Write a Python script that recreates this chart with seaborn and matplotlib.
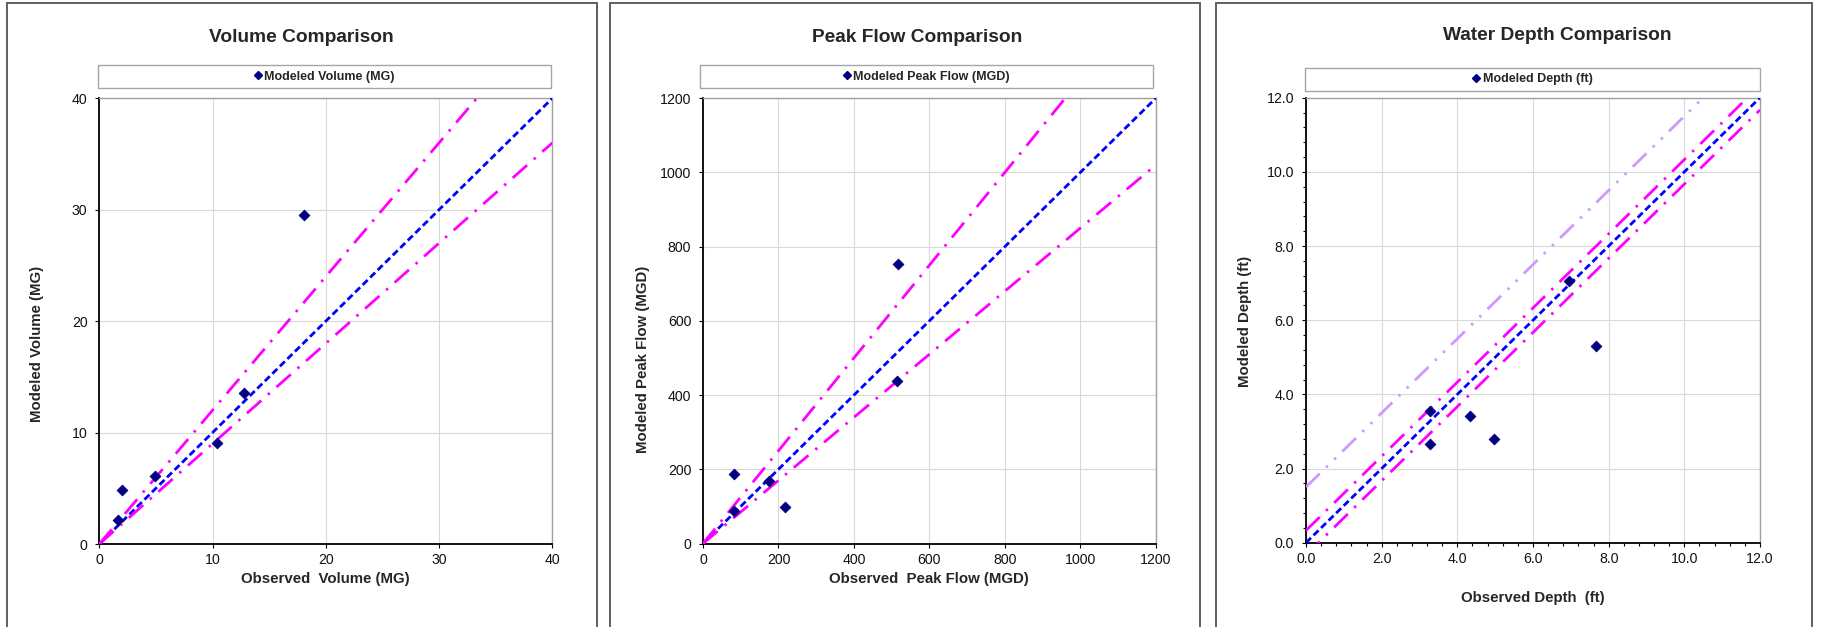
import matplotlib
matplotlib.use('Agg')
import matplotlib.pyplot as plt
import seaborn as sns
from matplotlib.patches import Rectangle
from matplotlib.lines import Line2D
from matplotlib.ticker import MultipleLocator, FormatStrFormatter

# values
volume_obs = [1.65, 2.03, 4.88, 10.38, 12.75, 18.04]
volume_mod = [2.12, 4.81, 6.07, 9.02, 13.55, 29.5]
peak_obs = [82, 83, 176, 217, 516, 513]
peak_mod = [186, 88, 168, 99, 753, 438]
depth_obs = [3.27, 3.28, 4.33, 4.98, 6.96, 7.66]
depth_mod = [3.56, 2.67, 3.42, 2.79, 7.07, 5.30]

volume_ratios = [1.2, 0.9]      # +20% / -10% bands
peak_ratios = [1.25, 0.85]      # +25% / -15% bands
depth_offsets = [0.33, -0.33]   # +/- 4 in bands
depth_offset_high = 1.5

W, H = 1822, 627
NAVY = '#000080'
BLUE = '#0000FF'
MAGENTA = '#FF00FF'
LAVENDER = '#CC99FF'
fontsize = 10.2
LW = 2.0


def fx(px):
    return px / W


def fy(py):
    return 1 - py / H


sns.set_style('white')
plt.rcParams['font.family'] = ['Liberation Sans', 'DejaVu Sans']

fig = plt.figure(figsize=(W / 100, H / 100), dpi=100)

panels = [
    dict(obs=volume_obs, mod=volume_mod, lim=40, title='Volume Comparison',
         xlabel='Observed  Volume (MG)', ylabel='Modeled Volume (MG)', leg='Modeled Volume (MG)',
         ax=(99.3, 98.3, 552.3, 544), border=(7, 597), title_xy=(301, 37),
         box=(98.4, 65, 550.7, 88.4), xlab_y=579, ylab=(37, 266, 'top')),
    dict(obs=peak_obs, mod=peak_mod, lim=1200, title='Peak Flow Comparison',
         xlabel='Observed  Peak Flow (MGD)', ylabel='Modeled Peak Flow (MGD)', leg='Modeled Peak Flow (MGD)',
         ax=(703, 98.3, 1155.7, 543.5), border=(610, 1200), title_xy=(917, 37),
         box=(700, 65, 1153, 88.4), xlab_y=579, ylab=(643, 266, 'top')),
    dict(obs=depth_obs, mod=depth_mod, lim=12, title='Water Depth Comparison',
         xlabel='Observed Depth  (ft)', ylabel='Modeled Depth (ft)', leg='Modeled Depth (ft)',
         ax=(1306, 97.7, 1760, 542.7), border=(1215.5, 1812), title_xy=(1557, 35),
         box=(1305, 67.5, 1760, 91), xlab_y=598, ylab=(1245, 321, 'center')),
]

dash_blue = (2.5, 1.3)
dash_magenta = (6.9, 3.2, 0.9, 3.2)
dash_lavender = (6.9, 3.2, 0.9, 3.2, 0.9, 3.2)

for i, p in enumerate(panels):
    l, t, r, b = p['ax']
    ax = fig.add_axes([fx(l), fy(b), fx(r) - fx(l), (b - t) / H])
    lim = p['lim']

    # panel frame
    bl, br = p['border']
    fig.add_artist(Rectangle((fx(bl), -0.1), fx(br) - fx(bl), fy(3) + 0.1, transform=fig.transFigure,
                             fill=False, edgecolor='#5f5f5f', linewidth=1.4))

    # reference lines
    xs = [0, lim]
    ax.plot(xs, xs, color=BLUE, lw=LW, dashes=dash_blue, zorder=3)
    if i < 2:
        ratios = volume_ratios if i == 0 else peak_ratios
        for k in ratios:
            ax.plot(xs, [x * k for x in xs], color=MAGENTA, lw=LW, dashes=dash_magenta, zorder=3)
    else:
        for d in depth_offsets:
            ax.plot(xs, [x + d for x in xs], color=MAGENTA, lw=LW, dashes=dash_magenta, zorder=3)
        ax.plot(xs, [x + depth_offset_high for x in xs], color=LAVENDER, lw=LW,
                dashes=dash_lavender, zorder=3)

    sns.scatterplot(x=p['obs'], y=p['mod'], ax=ax, marker='D', color=NAVY, s=30,
                    edgecolor=NAVY, linewidth=0.6, zorder=4, legend=False)

    ax.set_xlim(0, lim)
    ax.set_ylim(0, lim)
    ax.set_xlabel('')
    ax.set_ylabel('')
    if i == 2:
        ax.xaxis.set_major_locator(MultipleLocator(2))
        ax.yaxis.set_major_locator(MultipleLocator(2))
        ax.xaxis.set_minor_locator(MultipleLocator(0.4))
        ax.yaxis.set_minor_locator(MultipleLocator(0.4))
        ax.xaxis.set_major_formatter(FormatStrFormatter('%.1f'))
        ax.yaxis.set_major_formatter(FormatStrFormatter('%.1f'))
        ax.tick_params(which='minor', direction='out', length=2.5, width=0.8, color='black')
    else:
        step = 10 if i == 0 else 200
        ax.xaxis.set_major_locator(MultipleLocator(step))
        ax.yaxis.set_major_locator(MultipleLocator(step))

    ax.tick_params(axis='both', which='major', direction='out', length=3, width=0.8,
                   color='black', labelsize=fontsize, labelcolor='#111111')
    ax.tick_params(axis='y', which='major', pad=5.5)
    ax.tick_params(axis='x', which='major', pad=3.5)
    ax.tick_params(bottom=True, left=True, which='both')

    ax.grid(True, which='major', color='#D9D9D9', lw=0.8)
    ax.set_axisbelow(True)
    for side in ['left', 'bottom']:
        ax.spines[side].set_color('black')
        ax.spines[side].set_linewidth(1.3)
    for side in ['top', 'right']:
        ax.spines[side].set_color('#A0A0A0')
        ax.spines[side].set_linewidth(1.0)

    # titles and axis labels
    tx, ty = p['title_xy']
    fig.text(fx(tx), fy(ty), p['title'], ha='center', va='center', fontsize=13.8, fontweight='bold')
    fig.text(fx((l + r) / 2), fy(p['xlab_y']), p['xlabel'], ha='center', va='center',
             fontsize=10.8, fontweight='bold')
    yx, yy, yva = p['ylab']
    fig.text(fx(yx), fy(yy), p['ylabel'], ha='center', va=yva, rotation=90,
             fontsize=10.8, fontweight='bold')

    # legend strip above the plot area
    x0, y0, x1, y1 = p['box']
    fig.add_artist(Rectangle((fx(x0), fy(y1)), fx(x1) - fx(x0), (y1 - y0) / H, transform=fig.transFigure,
                             fill=False, edgecolor='#A6A6A6', linewidth=1.0))
    handle = Line2D([], [], marker='D', color=NAVY, linestyle='none', markersize=4.4)
    fig.legend(handles=[handle], labels=[p['leg']], loc='center',
               bbox_to_anchor=(fx((x0 + x1) / 2), fy((y0 + y1) / 2)), frameon=False,
               handlelength=0.6, handletextpad=0.2, borderpad=0,
               prop={'size': 9, 'weight': 'bold'})

fig.savefig('out.png', dpi=100)
